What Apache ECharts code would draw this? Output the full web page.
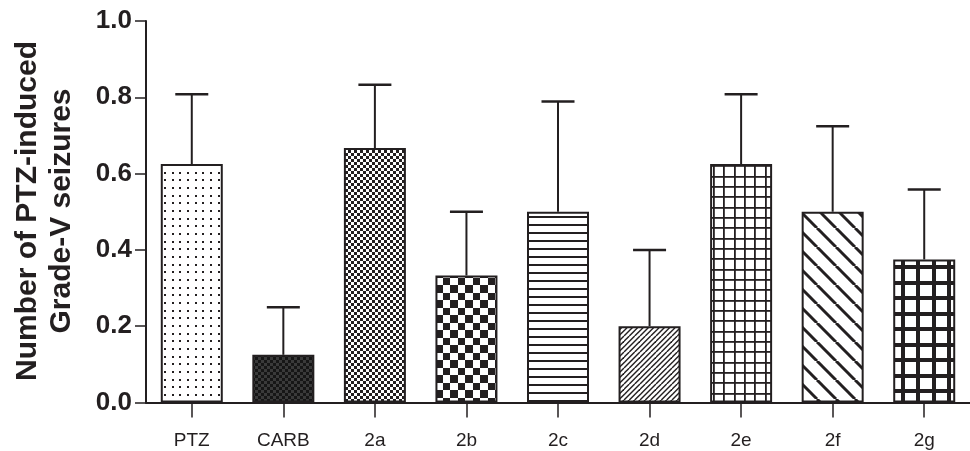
<!DOCTYPE html>
<html>
<head>
<meta charset="utf-8">
<script src="https://cdn.jsdelivr.net/npm/echarts@6/dist/echarts.min.js"></script>
<style>
  html, body { margin: 0; padding: 0; background: #fff; }
  #chart { width: 970px; height: 451px; }
</style>
</head>
<body>
<div id="chart"></div>
<script>
// Group names, mean number of grade-V seizures and SEM for each group
const categories = ['PTZ', 'CARB', '2a', '2b', '2c', '2d', '2e', '2f', '2g'];
const means = [0.625, 0.125, 0.667, 0.333, 0.5, 0.2, 0.625, 0.5, 0.375];
const sems = [0.183, 0.125, 0.166, 0.167, 0.289, 0.2, 0.183, 0.224, 0.183];
const yTicks = [0, 0.2, 0.4, 0.6, 0.8, 1.0];

const INK = '#231f20';

// Build a repeating canvas fill for a bar
function tile(w, h, draw) {
  const c = document.createElement('canvas');
  c.width = w; c.height = h;
  const g = c.getContext('2d');
  g.fillStyle = '#fff';
  g.fillRect(0, 0, w, h);
  g.fillStyle = INK;
  g.strokeStyle = INK;
  draw(g, w, h);
  return { image: c, repeat: 'repeat' };
}

const fills = [
  // PTZ: sparse dots
  tile(23, 23, g => {
    [0, 8, 15].forEach(x => [0, 8, 15].forEach(y => g.fillRect(x + 3, y + 3, 2, 2)));
  }),
  // CARB: dark fine checker
  tile(6, 6, g => {
    g.fillStyle = '#3a3a3a'; g.fillRect(0, 0, 6, 6);
    g.fillStyle = '#161616'; g.fillRect(0, 0, 3, 3); g.fillRect(3, 3, 3, 3);
  }),
  // 2a: fine checker
  tile(6, 6, g => { g.fillRect(0, 0, 3, 3); g.fillRect(3, 3, 3, 3); }),
  // 2b: coarse checker
  tile(15, 15, g => { g.fillRect(0, 0, 8, 8); g.fillRect(8, 8, 7, 7); }),
  // 2c: horizontal lines
  tile(8, 8, g => { g.fillRect(0, 0, 8, 2); }),
  // 2d: fine forward diagonals
  tile(16, 16, g => {
    g.lineWidth = 1.4;
    for (let c = -16; c <= 48; c += 16 / 3) {
      g.beginPath(); g.moveTo(c, 0); g.lineTo(c - 16, 16); g.stroke();
    }
  }),
  // 2e: fine grid
  tile(31, 31, g => {
    [0, 10, 21].forEach(p => { g.fillRect(p, 0, 1.8, 31); g.fillRect(0, p, 31, 1.8); });
  }),
  // 2f: wide back diagonals
  tile(19, 19, g => {
    g.lineWidth = 3;
    for (let c = -19; c <= 38; c += 19) {
      g.beginPath(); g.moveTo(c, 0); g.lineTo(c + 19, 19); g.stroke();
    }
  }),
  // 2g: heavy grid
  tile(31, 31, g => {
    [2, 17].forEach(p => { g.fillRect(p, 0, 4, 31); g.fillRect(0, p, 31, 4); });
  })
];

const barData = means.map((v, i) => ({
  value: v,
  itemStyle: { color: fills[i], borderColor: INK, borderWidth: 2 }
}));
const errData = means.map((v, i) => [i, v, sems[i]]);

const chart = echarts.init(document.getElementById('chart'), null, { renderer: 'canvas' });
chart.setOption({
  animation: false,
  grid: { left: 146, right: -7, top: 21, bottom: 48.5, containLabel: false },
  xAxis: {
    type: 'category',
    data: categories,
    axisLine: { show: true, lineStyle: { color: INK, width: 2 } },
    axisTick: { show: true, alignWithLabel: true, length: 15, lineStyle: { color: INK, width: 1.5 } },
    axisLabel: { color: INK, fontFamily: 'Liberation Sans', fontSize: 19, margin: 29 }
  },
  yAxis: {
    type: 'value',
    min: 0, max: 1, interval: 0.2,
    splitLine: { show: false },
    axisLine: { show: true, lineStyle: { color: INK, width: 2 } },
    axisTick: { show: true, length: 11, lineStyle: { color: INK, width: 1.5 } },
    axisLabel: {
      color: INK, fontFamily: 'Liberation Sans', fontWeight: 'bold', fontSize: 26, margin: 14,
      formatter: v => yTicks.includes(+v.toFixed(1)) ? v.toFixed(1) : ''
    }
  },
  graphic: [{
    type: 'text',
    x: 45, y: 211,
    rotation: Math.PI / 2,
    style: {
      text: 'Number of PTZ-induced\nGrade-V seizures',
      font: 'bold 30px "Liberation Sans"',
      fill: INK,
      align: 'center',
      verticalAlign: 'middle',
      lineHeight: 34
    }
  }],
  series: [
    {
      type: 'custom',
      data: errData,
      z: 1,
      renderItem: (params, api) => {
        const x = api.value(0), m = api.value(1), e = api.value(2);
        const base = api.coord([x, m]);
        const top = api.coord([x, m + e]);
        return {
          type: 'group',
          children: [
            { type: 'line', shape: { x1: base[0], y1: base[1], x2: top[0], y2: top[1] },
              style: { stroke: INK, lineWidth: 2 } },
            { type: 'line', shape: { x1: top[0] - 16.5, y1: top[1], x2: top[0] + 16.5, y2: top[1] },
              style: { stroke: INK, lineWidth: 2.5 } }
          ]
        };
      }
    },
    {
      type: 'bar',
      data: barData,
      barWidth: 62,
      z: 2
    }
  ]
});
</script>
</body>
</html>
